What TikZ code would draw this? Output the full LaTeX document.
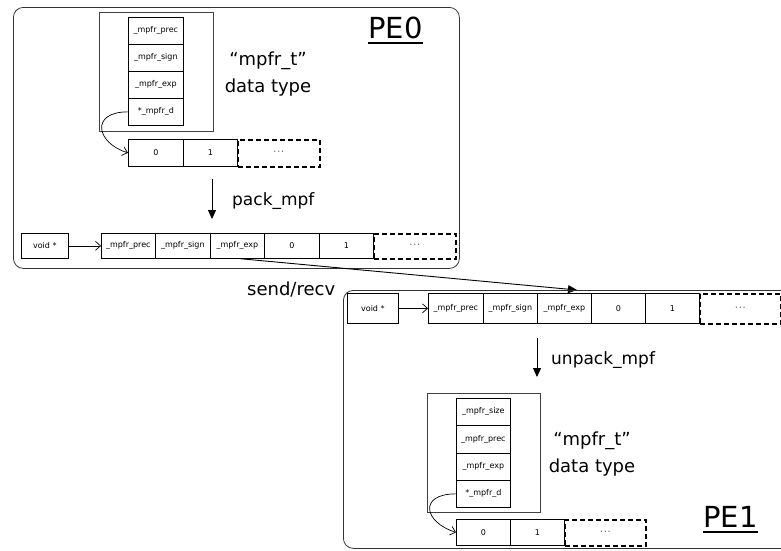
\documentclass[tikz,border=0pt]{standalone}
\usepackage{fontspec}
\setmainfont{DejaVu Sans}
\usetikzlibrary{arrows.meta}
\tikzset{
  cellbox/.style 2 args={draw, line width=0.7pt, inner sep=0pt, anchor=north west,
    minimum width=#1pt, minimum height=#2pt, font=\fontsize{8}{9}\selectfont},
  dashcell/.style={dash pattern=on 5pt off 3pt, line width=1.6pt},
  pebox/.style 2 args={draw=black!80, line width=0.8pt, rounded corners=10pt, inner sep=0pt,
    anchor=north west, minimum width=#1pt, minimum height=#2pt},
  structbox/.style 2 args={draw=black!75, line width=0.8pt, inner sep=0pt, anchor=north west,
    minimum width=#1pt, minimum height=#2pt},
  bigtext/.style={inner sep=0pt, font=\fontsize{18}{20}\selectfont},
  pelabel/.style={inner sep=0pt, anchor=base west, font=\fontsize{29}{30}\selectfont},
  barb/.style={-{Straight Barb[length=5pt,width=9pt]}, line width=0.7pt},
  tri/.style={-{Triangle[length=9pt,width=8pt]}, line width=0.9pt},
}
\begin{document}
\begin{tikzpicture}[x=1pt,y=-1pt]
\useasboundingbox (0,0) rectangle (781,550);
\clip (0,0) rectangle (781,550);

% ---------------- PE0 ----------------
\node[pebox={446}{261}] (pe0box) at (13,7) {};
\node[structbox={114}{119}] (s0) at (99,12) {};
\node[cellbox={55}{27}] (c01) at (128,17) {\_mpfr\_prec};
\node[cellbox={55}{27}] (c02) at (128,44) {\_mpfr\_sign};
\node[cellbox={55}{27}] (c03) at (128,71) {\_mpfr\_exp};
\node[cellbox={55}{27}] (c04) at (128,98) {*\_mpfr\_d};
\node[cellbox={55}{27}] (a00) at (128,139) {0};
\node[cellbox={54}{27}] (a01) at (183,139) {1};
\node[cellbox={82}{27}, dashcell] (a02) at (237,139) {·\,·\,·};
\draw[barb] (c04.west) .. controls +(-38,0) and +(-32,-10) .. (a00.west);

\node[bigtext, anchor=base] (dt0a) at (268,65) {“mpfr\_t”};
\node[bigtext, anchor=base] (dt0b) at (268,92) {data type};
\node[pelabel] (pe0) at (368,38) {PE0};
\draw[line width=1.6pt] ([yshift=-5pt]pe0.base west) -- ([yshift=-5pt]pe0.base east);

\coordinate (pk0s) at (212,179);
\coordinate (pk0e) at (212,219);
\draw[tri] (pk0s) -- (pk0e);
\node[bigtext, anchor=base west, font=\fontsize{17}{20}\selectfont] (packlbl) at (232,205) {pack\_mpf};

\node[cellbox={47}{25}] (v0) at (21,233) {void *};
\node[cellbox={54}{25}] (p01) at (101,233) {\_mpfr\_prec};
\node[cellbox={55}{25}] (p02) at (155,233) {\_mpfr\_sign};
\node[cellbox={54}{25}] (p03) at (210,233) {\_mpfr\_exp};
\node[cellbox={55}{25}] (p04) at (264,233) {0};
\node[cellbox={54}{25}] (p05) at (319,233) {1};
\node[cellbox={82}{25}, dashcell] (p06) at (373,233) {·\,·\,·};
\draw[barb] (v0.east) -- (p01.west);

% ---------------- send/recv ----------------
\coordinate (recv) at (577,290);
\draw[tri] ([xshift=3pt]p03.south) -- (recv);
\node[bigtext, anchor=base west] (sendlbl) at (247,295) {send/recv};

% ---------------- PE1 ----------------
\node[pebox={450}{258}] (pe1box) at (343,290) {};
\node[cellbox={51}{30}] (v1) at (347,293) {void *};
\node[cellbox={55}{30}] (q01) at (428,293) {\_mpfr\_prec};
\node[cellbox={54}{30}] (q02) at (483,293) {\_mpfr\_sign};
\node[cellbox={54}{30}] (q03) at (537,293) {\_mpfr\_exp};
\node[cellbox={54}{30}] (q04) at (591,293) {0};
\node[cellbox={54}{30}] (q05) at (645,293) {1};
\node[cellbox={81}{30}, dashcell] (q06) at (699,293) {·\,·\,·};
\draw[barb] (v1.east) -- (q01.west);

\coordinate (up1s) at (537,338);
\coordinate (up1e) at (537,377);
\draw[tri] (up1s) -- (up1e);
\node[bigtext, anchor=base west, font=\fontsize{17}{20}\selectfont] (unpacklbl) at (551,364) {unpack\_mpf};

\node[structbox={113}{119}] (s1) at (427,393) {};
\node[cellbox={54}{27}] (d11) at (456,398) {\_mpfr\_size};
\node[cellbox={54}{28}] (d12) at (456,425) {\_mpfr\_prec};
\node[cellbox={54}{27}] (d13) at (456,453) {\_mpfr\_exp};
\node[cellbox={54}{27}] (d14) at (456,480) {*\_mpfr\_d};
\node[cellbox={54}{26}] (b10) at (456,519) {0};
\node[cellbox={54}{26}] (b11) at (510,519) {1};
\node[cellbox={81}{26}, dashcell] (b12) at (564,519) {·\,·\,·};
\draw[barb] (d14.west) .. controls +(-38,0) and +(-32,-10) .. (b10.west);

\node[bigtext, anchor=base] (dt1a) at (592,445) {“mpfr\_t”};
\node[bigtext, anchor=base] (dt1b) at (592,472) {data type};
\node[pelabel] (pe1) at (703,527) {PE1};
\draw[line width=1.6pt] ([yshift=-5pt]pe1.base west) -- ([yshift=-5pt]pe1.base east);
\end{tikzpicture}
\end{document}
